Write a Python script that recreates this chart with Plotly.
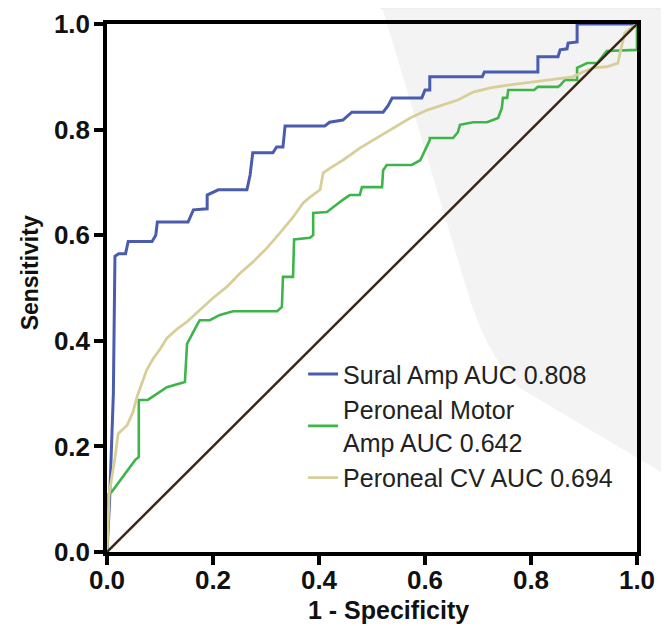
import plotly.graph_objects as go

# ---------------- data ----------------
series_names = ["Sural Amp AUC 0.808", "Peroneal Motor<br>Amp AUC 0.642", "Peroneal CV AUC 0.694"]
series_colors = ["#4a5cae", "#3db54a", "#d8cf98"]

sural_x = [0.000, 0.005, 0.012, 0.015, 0.022, 0.035, 0.040, 0.085, 0.092, 0.095, 0.153, 0.163, 0.189,
           0.189, 0.210, 0.264, 0.270, 0.275, 0.313, 0.320, 0.332, 0.336, 0.411, 0.420, 0.445, 0.462,
           0.521, 0.530, 0.538, 0.594, 0.600, 0.609, 0.609, 0.708, 0.712, 0.813, 0.813, 0.851, 0.855,
           0.868, 0.870, 0.887, 0.887, 1.000]
sural_y = [0.000, 0.100, 0.300, 0.560, 0.565, 0.565, 0.588, 0.588, 0.600, 0.625, 0.625, 0.648, 0.650,
           0.676, 0.686, 0.686, 0.714, 0.756, 0.756, 0.767, 0.767, 0.807, 0.807, 0.814, 0.818, 0.833,
           0.833, 0.845, 0.860, 0.860, 0.875, 0.875, 0.900, 0.900, 0.909, 0.909, 0.938, 0.938, 0.951,
           0.953, 0.964, 0.966, 1.000, 1.000]

motor_x = [0.000, 0.003, 0.009, 0.025, 0.038, 0.053, 0.060, 0.060, 0.077, 0.113, 0.147, 0.151, 0.170,
           0.175, 0.194, 0.213, 0.238, 0.321, 0.330, 0.332, 0.351, 0.353, 0.383, 0.389, 0.389, 0.415,
           0.445, 0.458, 0.477, 0.481, 0.519, 0.521, 0.528, 0.575, 0.591, 0.600, 0.609, 0.609, 0.653,
           0.662, 0.666, 0.691, 0.717, 0.738, 0.745, 0.747, 0.755, 0.757, 0.806, 0.813, 0.851, 0.855,
           0.864, 0.887, 0.887, 0.906, 0.925, 0.943, 1.000, 1.000]
motor_y = [0.000, 0.110, 0.114, 0.136, 0.155, 0.174, 0.180, 0.288, 0.288, 0.312, 0.322, 0.394, 0.430,
           0.439, 0.439, 0.449, 0.456, 0.456, 0.464, 0.521, 0.521, 0.592, 0.595, 0.600, 0.642, 0.644,
           0.667, 0.676, 0.676, 0.691, 0.691, 0.723, 0.733, 0.733, 0.742, 0.761, 0.780, 0.784, 0.784,
           0.795, 0.809, 0.814, 0.814, 0.822, 0.841, 0.860, 0.860, 0.875, 0.875, 0.881, 0.881, 0.884,
           0.894, 0.894, 0.917, 0.926, 0.926, 0.949, 0.951, 1.000]

cv_x = [0.000, 0.004, 0.015, 0.021, 0.038, 0.049, 0.057, 0.066, 0.075, 0.087, 0.100, 0.113, 0.132,
        0.151, 0.175, 0.200, 0.226, 0.251, 0.275, 0.302, 0.326, 0.351, 0.370, 0.383, 0.402, 0.408,
        0.421, 0.445, 0.477, 0.509, 0.540, 0.572, 0.604, 0.634, 0.662, 0.691, 0.723, 0.755, 0.785,
        0.817, 0.849, 0.879, 0.898, 0.917, 0.943, 0.964, 0.968, 0.972, 0.977, 0.991, 1.000]
cv_y = [0.000, 0.110, 0.178, 0.224, 0.240, 0.265, 0.295, 0.320, 0.345, 0.366, 0.384, 0.405, 0.422,
        0.436, 0.458, 0.481, 0.502, 0.528, 0.549, 0.576, 0.604, 0.634, 0.661, 0.672, 0.686, 0.718,
        0.727, 0.742, 0.765, 0.784, 0.803, 0.822, 0.837, 0.847, 0.856, 0.871, 0.879, 0.884, 0.888,
        0.892, 0.896, 0.900, 0.909, 0.917, 0.919, 0.926, 0.945, 0.964, 0.983, 0.994, 1.000]

chance_x = [0.0, 1.0]
chance_y = [0.0, 1.0]

tick_vals = [0.0, 0.2, 0.4, 0.6, 0.8, 1.0]
tick_text = ["0.0", "0.2", "0.4", "0.6", "0.8", "1.0"]
x_title = "1 - Specificity"
y_title = "Sensitivity"

# ---------------- figure ----------------
fig = go.Figure()
for xs, ys, name, col, w in [(sural_x, sural_y, series_names[0], series_colors[0], 3.0),
                             (motor_x, motor_y, series_names[1], series_colors[1], 2.6),
                             (cv_x, cv_y, series_names[2], series_colors[2], 2.8)]:
    fig.add_trace(go.Scatter(x=xs, y=ys, mode="lines", name=name,
                             line=dict(color=col, width=w)))
fig.add_trace(go.Scatter(x=chance_x, y=chance_y, mode="lines", showlegend=False,
                         line=dict(color="#3b2619", width=2.5)))

FONT = "Liberation Sans, Arial, sans-serif"
axis_common = dict(
    range=[0, 1], tickvals=tick_vals, ticktext=tick_text,
    showgrid=False, zeroline=False, automargin=False,
    showline=True, linecolor="black", linewidth=3.5, mirror=True,
    ticks="outside", ticklen=9, tickwidth=3.5, tickcolor="black",
    tickfont=dict(family=FONT, size=26, color="#111111", weight="bold"),
)
fig.update_xaxes(**axis_common, ticklabelstandoff=-7)
fig.update_yaxes(**axis_common, ticklabelstandoff=-1)

# decorative light-grey background wedge (paper coordinates)
fig.add_shape(type="path", xref="paper", yref="paper", layer="below",
              path="M 0.5094 1.064 L 0.6849 0.4773 Q 0.7226 0.3636 0.7792 0.3106 L 1.12 0.107 L 1.12 1.064 Z",
              fillcolor="#f3f3f3", line=dict(width=0))
fig.add_shape(type="rect", xref="paper", yref="paper", layer="below",
              x0=0.515, x1=1.12, y0=1.028, y1=1.064, fillcolor="#eeeeee", line=dict(width=0))

fig.add_annotation(text=x_title, xref="paper", yref="paper", x=0.532, y=-0.11,
                   xanchor="center", yanchor="middle", showarrow=False,
                   font=dict(family=FONT, size=25, color="#111111", weight="bold"))
fig.add_annotation(text=y_title, xref="paper", yref="paper", x=-0.145, y=0.528,
                   xanchor="center", yanchor="middle", textangle=-90, showarrow=False,
                   font=dict(family=FONT, size=23, color="#111111", weight="bold"))
# fragment of a neighbouring panel's tick label at the left edge
fig.add_annotation(text="0", xref="paper", yref="paper", x=-0.19, y=-0.049,
                   xanchor="right", yanchor="middle", showarrow=False,
                   font=dict(family=FONT, size=26, color="#111111", weight="bold"))

# the page body has an 8px default margin, so the figure is offset by 8px
fig.update_layout(
    width=661, height=618,
    margin=dict(l=99, r=32, t=16, b=74),
    paper_bgcolor="white", plot_bgcolor="rgba(0,0,0,0)",
    showlegend=True,
    legend=dict(x=0.37, y=0.38, xanchor="left", yanchor="top",
                bgcolor="rgba(0,0,0,0)", borderwidth=0,
                font=dict(family=FONT, size=25, color="#222222"),
                tracegroupgap=0, itemwidth=30),
)

fig.write_html("out.html")
